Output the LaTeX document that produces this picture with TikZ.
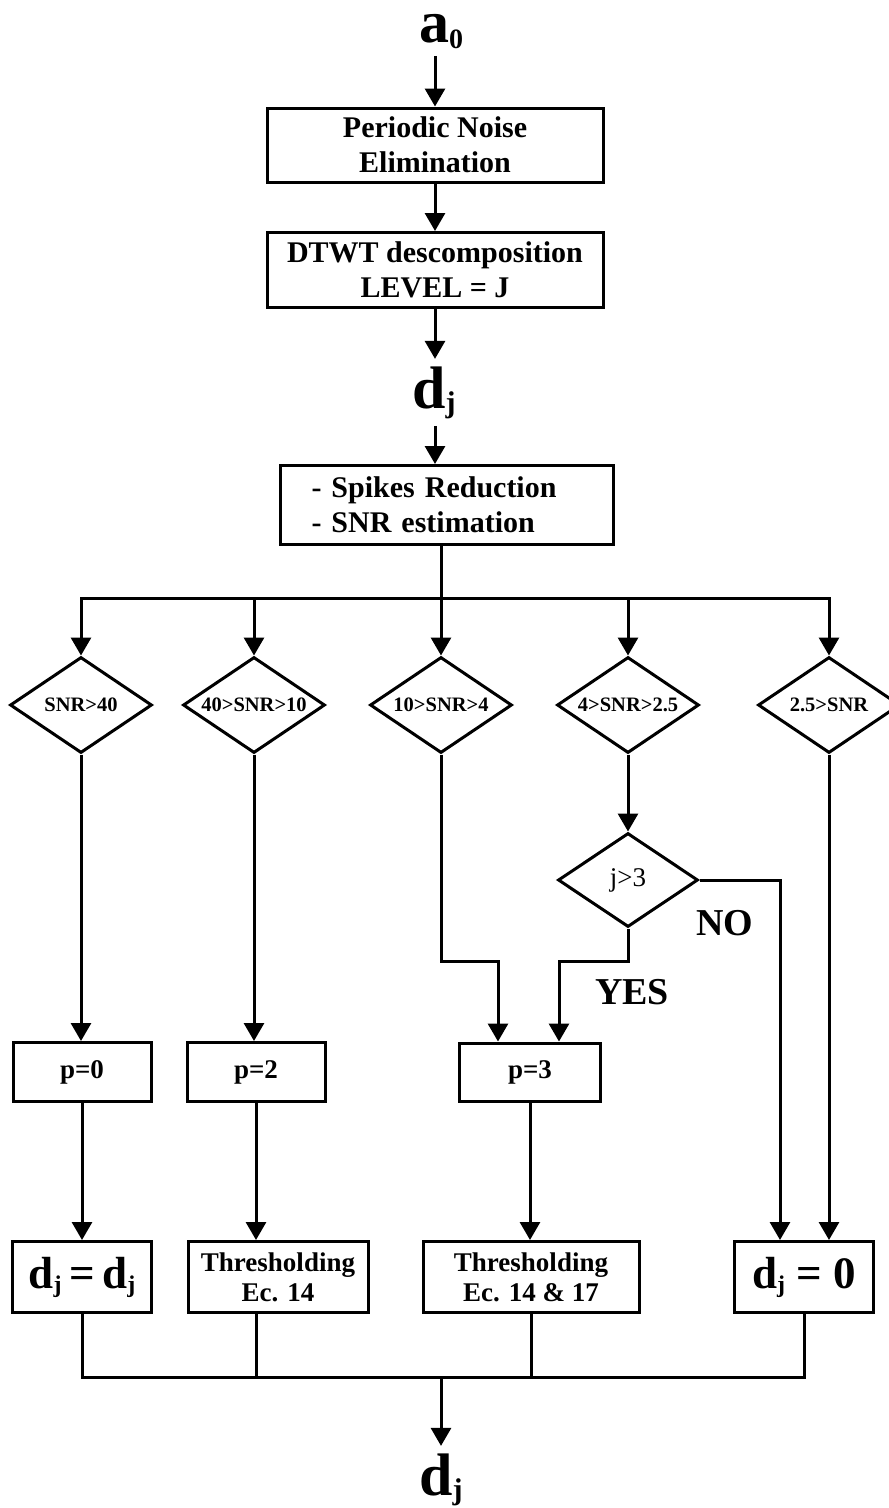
\documentclass[tikz,border=0pt]{standalone}
\usepackage{fontspec}
\setmainfont{Liberation Serif}
\usetikzlibrary{arrows.meta,shapes.geometric,calc}

\newcommand{\lowsub}[3][4pt]{\raisebox{-#1}{\fontsize{#2}{#2}\selectfont #3}}

\begin{document}
\begin{tikzpicture}[x=1pt,y=-1pt,line width=3pt,
  arr/.style={-{Triangle[length=18pt,width=20pt]}},
  box/.style={draw,inner sep=0pt,align=center,font=\bfseries\fontsize{30}{35}\selectfont},
  small box/.style={box,font=\bfseries\fontsize{27}{30}\selectfont},
  result/.style={box,minimum height=71pt,font=\bfseries\fontsize{45}{45}\selectfont},
  cond/.style={draw,diamond,inner sep=0pt,minimum width=142pt,minimum height=96pt,
    font=\bfseries\fontsize{20.5}{22}\selectfont},
  sym/.style={inner sep=6pt,font=\bfseries\fontsize{60}{60}\selectfont},
  answer/.style={font=\bfseries\fontsize{38}{38}\selectfont}]
  \useasboundingbox (0,0) rectangle (889,1508);

  % input and preprocessing
  \node[sym,anchor=base] (a0) at (441,42) {a\lowsub[6pt]{28}{0}};
  \node[box,minimum width=336pt,minimum height=74pt] (noise) at (435,145) {Periodic Noise\\Elimination};
  \node[box,minimum width=336pt,minimum height=75pt] (dtwt) at (435,270) {DTWT descomposition\\LEVEL = J};
  \node[sym,anchor=base] (dj1) at (434,408) {d\lowsub{30}{j}};
  \node[box,minimum width=333pt,minimum height=79pt,text width=271pt,align=left] (spikes) at (447,505)
    {- Spikes Reduction\\- SNR estimation};

  \draw[arr] (a0.south -| noise.north) -- (noise.north);
  \draw[arr] (noise) -- (dtwt);
  \draw[arr] (dtwt.south) -- (dtwt.south |- dj1.north);
  \draw[arr] (dj1.south -| spikes.north) ++(-12,0) -- ($(spikes.north)+(-12,0)$);

  % SNR classes
  \coordinate (split) at (441,598);
  \foreach \n/\x/\t in {1/81/SNR>40, 2/254/40>SNR>10, 3/441/10>SNR>4, 4/628/4>SNR>2.5, 5/829/2.5>SNR}
    \node[cond] (c\n) at (\x,705) {\makebox[0pt]{\t}};
  \draw (split |- spikes.south) -- (split);
  \draw[line cap=rect] (c1 |- split) -- (c5 |- split);
  \foreach \n in {1,...,5}
    \draw[arr] (c\n |- split) -- (c\n.north);

  \node[cond,minimum width=140pt,minimum height=94pt,font=\fontsize{27}{27}\selectfont] (jtest) at (628,880) {j>3};
  \draw[arr] (c4.south) -- (jtest.north);

  % parameter boxes
  \node[small box,minimum width=138pt,minimum height=59pt] (p0) at (82,1072) {p=0};
  \node[small box,minimum width=138pt,minimum height=59pt] (p2) at (256,1072) {p=2};
  \node[small box,minimum width=141pt,minimum height=58pt] (p3) at (530,1072) {p=3};

  % results
  \node[result,minimum width=139pt] (keep) at (82,1277) {d\lowsub{24}{j}\,=\,d\lowsub{24}{j}};
  \node[small box,minimum width=180pt,minimum height=71pt] (th14) at (278,1277) {Thresholding\\Ec. 14};
  \node[small box,minimum width=216pt,minimum height=71pt] (th17) at (531,1277) {Thresholding\\Ec. 14 \& 17};
  \node[result,minimum width=139pt] (zero) at (804,1277) {d\lowsub{24}{j} = 0};

  \coordinate (via3) at (498,961);
  \coordinate (viaj) at (559,961);
  \draw[arr] (c1.south) -- (c1.south |- p0.north);
  \draw[arr] (c2.south) -- (c2.south |- p2.north);
  \draw[arr] (c3.south) |- (via3) -- (via3 |- p3.north);
  \draw[arr] (jtest.south) |- (viaj) -- (viaj |- p3.north);
  \draw[arr] (jtest.east) -| ($(zero.north)+(-24,0)$);
  \draw[arr] (c5.south) -- (c5.south |- zero.north);
  \node[answer] (no) at (725,923) {NO};
  \node[answer] (yes) at (632,992) {YES};

  \draw[arr] (p0.south) -- (p0.south |- keep.north);
  \draw[arr] (p2.south) -- (p2.south |- th14.north);
  \draw[arr] (p3.south) -- (p3.south |- th17.north);

  % output
  \coordinate (merge) at (441,1377);
  \node[sym,anchor=base] (dj2) at (441,1495) {d\lowsub{30}{j}};
  \draw (keep.south) -- (keep.south |- merge) -- (zero.south |- merge) -- (zero.south);
  \draw (p2.south |- th14.south) -- (p2.south |- merge);
  \draw (th17.south) -- (th17.south |- merge);
  \draw[arr] (merge) -- (dj2.north);
\end{tikzpicture}
\end{document}
